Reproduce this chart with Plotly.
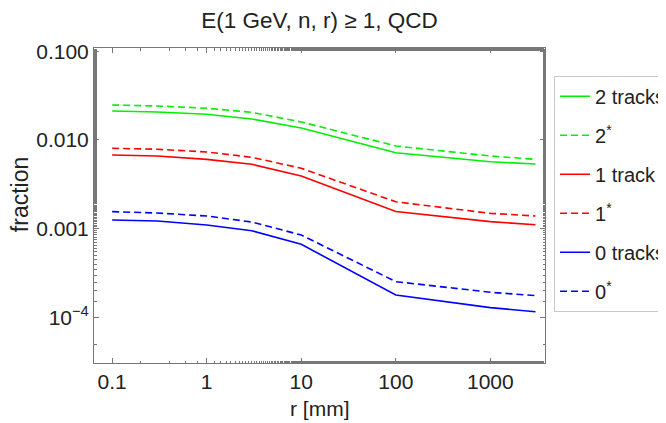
import plotly.graph_objects as go

r_mm = [0.1, 0.3, 1, 3, 10, 100, 1000, 3000]

two_tracks = [0.0212, 0.0207, 0.0195, 0.01725, 0.01365, 0.00719, 0.00569, 0.00536]
two_star = [0.0248, 0.0242, 0.0228, 0.0205, 0.01596, 0.00856, 0.0066, 0.00605]
one_track = [0.00678, 0.0066, 0.00605, 0.00532, 0.00393, 0.00156, 0.0012, 0.00111]
one_star = [0.00806, 0.00786, 0.00733, 0.00638, 0.0048, 0.00201, 0.00149, 0.00139]
zero_tracks = [0.001254, 0.001222, 0.001102, 0.000949, 0.000667, 0.000179, 0.000129, 0.000116]
zero_star = [0.001556, 0.001503, 0.00139, 0.00119, 0.000849, 0.000253, 0.000192, 0.000176]

series = [
    ("2 tracks", two_tracks, "rgb(0,240,0)", "solid"),
    ("2<sup>*</sup>", two_star, "rgb(0,240,0)", "dash"),
    ("1 track", one_track, "rgb(255,0,0)", "solid"),
    ("1<sup>*</sup>", one_star, "rgb(255,0,0)", "dash"),
    ("0 tracks", zero_tracks, "rgb(0,0,255)", "solid"),
    ("0<sup>*</sup>", zero_star, "rgb(0,0,255)", "dash"),
]

x_tickvals = [0.1, 1, 10, 100, 1000]
x_ticktext = ["0.1", "1", "10", "100", "1000"]
y_tickvals = [0.1, 0.01, 0.001, 0.0001]
y_ticktext = ["0.100", "0.010", "0.001", "10<sup>−4</sup>"]

FONT = "Liberation Sans, Arial, sans-serif"
TXT = "#222"

fig = go.Figure()
for i, (name, vals, color, dash) in enumerate(series):
    fig.add_trace(go.Scatter(
        x=r_mm, y=vals, mode="lines", name=name,
        legendgroup=f"g{i}",
        line=dict(color=color, width=1.6,
                  dash="7px,4px" if dash == "dash" else "solid"),
    ))

axis_common = dict(
    type="log", showgrid=False, zeroline=False, automargin=False,
    showline=True, linecolor="#777", linewidth=1, mirror="allticks",
    ticks="inside", ticklen=5, tickcolor="#777", tickwidth=1,
    minor=dict(ticks="inside", ticklen=2.5, tickcolor="#777", showgrid=False),
    tickfont=dict(family=FONT, size=21, color=TXT),
)

fig.update_layout(
    width=666, height=423,
    margin=dict(l=86, r=129, t=40, b=68, autoexpand=False),
    paper_bgcolor="white", plot_bgcolor="white",
    font=dict(family=FONT, size=21, color=TXT),
    title=dict(text="E(1 GeV, n, r) ≥ 1, QCD", x=0.5, xref="paper",
               y=1 - 12 / 423, yanchor="middle",
               font=dict(family=FONT, size=22.5, color=TXT)),
    xaxis=dict(axis_common, range=[-1.192, 3.578],
               tickvals=x_tickvals, ticktext=x_ticktext),
    yaxis=dict(axis_common, range=[-4.514, -0.963],
               tickvals=y_tickvals, ticktext=y_ticktext),
    showlegend=True,
    legend=dict(x=1.02, xanchor="left", y=0.912, yanchor="top",
                bordercolor="#c8c8c8", borderwidth=1, bgcolor="white",
                font=dict(family=FONT, size=20, color=TXT),
                tracegroupgap=10, itemwidth=30),
    annotations=[
        dict(text="fraction", xref="paper", yref="paper", x=-0.164, y=0.533,
             xanchor="center", yanchor="middle", textangle=-90, showarrow=False,
             font=dict(family=FONT, size=23, color=TXT)),
        dict(text="r [mm]", xref="paper", yref="paper", x=0.499, y=-0.146,
             xanchor="center", yanchor="middle", showarrow=False,
             font=dict(family=FONT, size=21, color=TXT)),
    ],
)

fig.write_html("out.html")
